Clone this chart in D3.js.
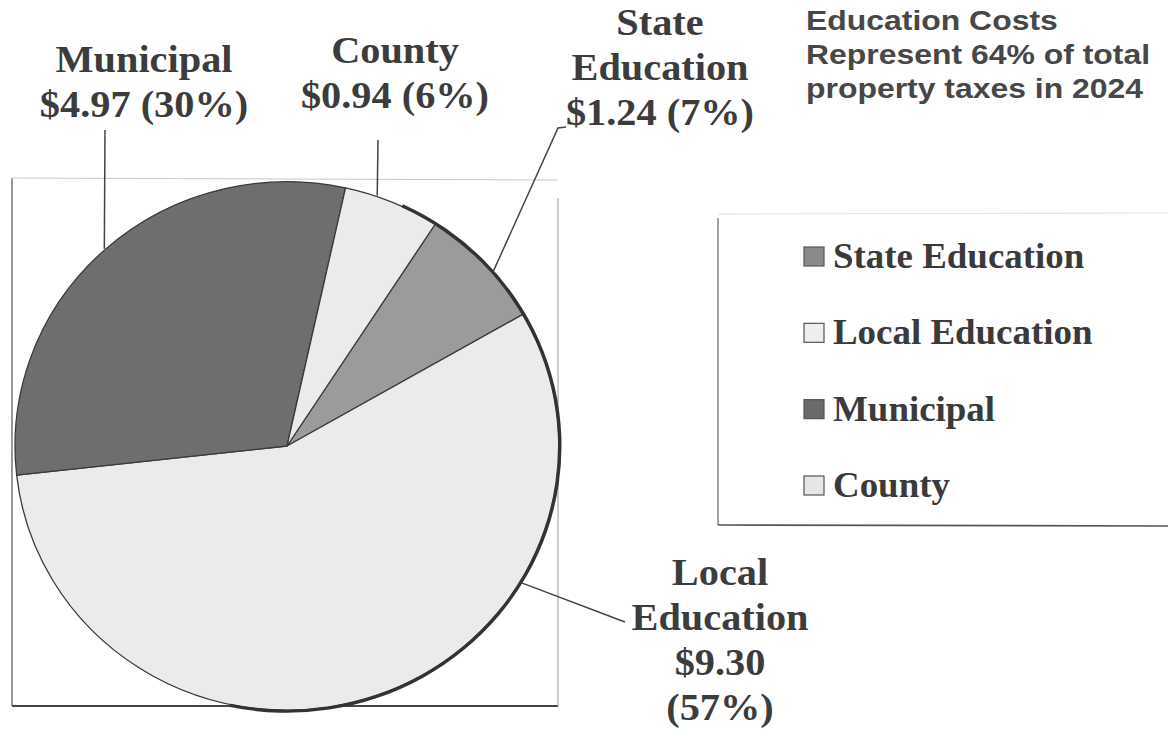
<!DOCTYPE html>
<html lang="en">
<head>
  <meta charset="UTF-8" />
  <title>Property taxes 2024</title>
  <script src="https://d3js.org/d3.v7.min.js"></script>
  <style>
    body {
      margin: 0;
      background: #fff;
    }
    .label {
      font-family: "Liberation Serif", "Times New Roman", serif;
      font-weight: bold;
      font-size: 37px;
      fill: #3c3c3c;
    }
    .legend-text {
      font-family: "Liberation Serif", "Times New Roman", serif;
      font-weight: bold;
      font-size: 35px;
      fill: #3a3a3a;
    }
    .title {
      font-family: "Liberation Sans", Arial, sans-serif;
      font-weight: bold;
      font-size: 28px;
      fill: #474747;
    }
  </style>
</head>
<body>
  <div id="chart"></div>
  <script>
    // data (legend order = clockwise order in the pie)
    const categories = ["State Education", "Local Education", "Municipal", "County"];
    const amounts = [1.24, 9.30, 4.97, 0.94];
    const percents = ["7%", "57%", "30%", "6%"];
    const sliceColors = ["#9b9b9b", "#ebebeb", "#6e6e6e", "#ebebeb"];
    const swatchColors = ["#8a8a8a", "#eeeeee", "#6a6a6a", "#e6e6e6"];
    const titleLines = ["Education Costs", "Represent 64% of total", "property taxes in 2024"];

    const width = 1168, height = 729;
    const cx = 287, cy = 446, r = 272, sy = 0.972; // scan is slightly squashed vertically

    const svg = d3.select("#chart")
      .append("svg")
      .attr("width", width)
      .attr("height", height);

    // frame around the plot
    const frame = svg.append("g");
    frame.append("line").attr("x1", 12).attr("y1", 178).attr("x2", 12).attr("y2", 706)
      .attr("stroke", "#555").attr("stroke-width", 1.2);
    frame.append("line").attr("x1", 12).attr("y1", 706).attr("x2", 558).attr("y2", 706)
      .attr("stroke", "#444").attr("stroke-width", 2);
    frame.append("line").attr("x1", 558).attr("y1", 198).attr("x2", 558).attr("y2", 706)
      .attr("stroke", "#999").attr("stroke-width", 1);
    frame.append("line").attr("x1", 12).attr("y1", 178).attr("x2", 558).attr("y2", 180)
      .attr("stroke", "#c8c8c8").attr("stroke-width", 1);

    const data = categories.map((c, i) => ({ name: c, value: amounts[i], pct: percents[i], color: sliceColors[i] }));

    const deg = Math.PI / 180;
    const start = 33 * deg;
    const pie = d3.pie()
      .sort(null)
      .value(d => d.value)
      .startAngle(start)
      .endAngle(start + 2 * Math.PI);

    const arc = d3.arc().innerRadius(0).outerRadius(r);

    const g = svg.append("g").attr("transform", `translate(${cx},${cy}) scale(1,${sy})`);

    g.selectAll("path.slice")
      .data(pie(data))
      .enter()
      .append("path")
      .attr("class", "slice")
      .attr("d", arc)
      .attr("fill", d => d.data.color)
      .attr("stroke", "#3a3a3a")
      .attr("stroke-width", 1.3)
      .attr("stroke-linejoin", "round");

    // darker rim on the right / bottom side (shadow of the scan)
    g.append("path")
      .attr("d", d3.arc().innerRadius(r - 1).outerRadius(r + 2.5)
        .startAngle(25 * deg).endAngle(192 * deg)())
      .attr("fill", "#333");

    // labels with leader lines
    const labelLayout = [
      { lines: ["State", "Education", "$1.24 (7%)"], x: 660, y: 35, edge: 49, to: [558, 128], tick: [566, 127] },
      { lines: ["Local", "Education", "$9.30", "(57%)"], x: 720, y: 585, edge: 121, to: [625, 622] },
      { lines: ["Municipal", "$4.97 (30%)"], x: 144, y: 72, edge: 318, to: [105, 130] },
      { lines: ["County", "$0.94 (6%)"], x: 395, y: 63, edge: 19.3, to: [378, 140] }
    ];
    const lineH = 45;

    labelLayout.forEach(l => {
      const a = l.edge * deg;
      const ex = cx + Math.sin(a) * (r + 1);
      const ey = cy - Math.cos(a) * (r + 1) * sy;
      const pts = [[ex, ey], l.to];
      if (l.tick) pts.push(l.tick);
      svg.append("path")
        .attr("d", d3.line()(pts))
        .attr("fill", "none")
        .attr("stroke", "#444")
        .attr("stroke-width", 1.5);

      const t = svg.append("text")
        .attr("class", "label")
        .attr("text-anchor", "middle")
        .attr("transform", `translate(${l.x},0) scale(1.09,1)`);
      l.lines.forEach((s, i) => {
        t.append("tspan").attr("x", 0).attr("y", l.y + i * lineH).text(s);
      });
    });

    // legend box
    const legend = svg.append("g");
    legend.append("line").attr("x1", 718).attr("y1", 214).attr("x2", 1168).attr("y2", 213)
      .attr("stroke", "#e0e0e0").attr("stroke-width", 1);
    legend.append("line").attr("x1", 718).attr("y1", 218).attr("x2", 718).attr("y2", 525)
      .attr("stroke", "#666").attr("stroke-width", 1.2);
    legend.append("line").attr("x1", 718).attr("y1", 525).attr("x2", 1168).attr("y2", 526)
      .attr("stroke", "#555").attr("stroke-width", 1.6);

    const rowY = d3.scalePoint().domain(categories).range([268, 497]);

    const items = legend.selectAll("g.item")
      .data(data)
      .enter()
      .append("g")
      .attr("class", "item");

    items.append("rect")
      .attr("x", 804)
      .attr("y", d => rowY(d.name) - 21)
      .attr("width", 20)
      .attr("height", 19)
      .attr("fill", (d, i) => swatchColors[i])
      .attr("stroke", "#555")
      .attr("stroke-width", 1.2);

    items.append("text")
      .attr("class", "legend-text")
      .attr("transform", d => `translate(833,${rowY(d.name)}) scale(1.055,1)`)
      .text(d => d.name);

    // title
    const title = svg.append("text")
      .attr("class", "title")
      .attr("transform", "translate(806,0) scale(1.14,1)");
    titleLines.forEach((s, i) => {
      title.append("tspan").attr("x", 0).attr("y", 30 + i * 34).text(s);
    });
  </script>
</body>
</html>
